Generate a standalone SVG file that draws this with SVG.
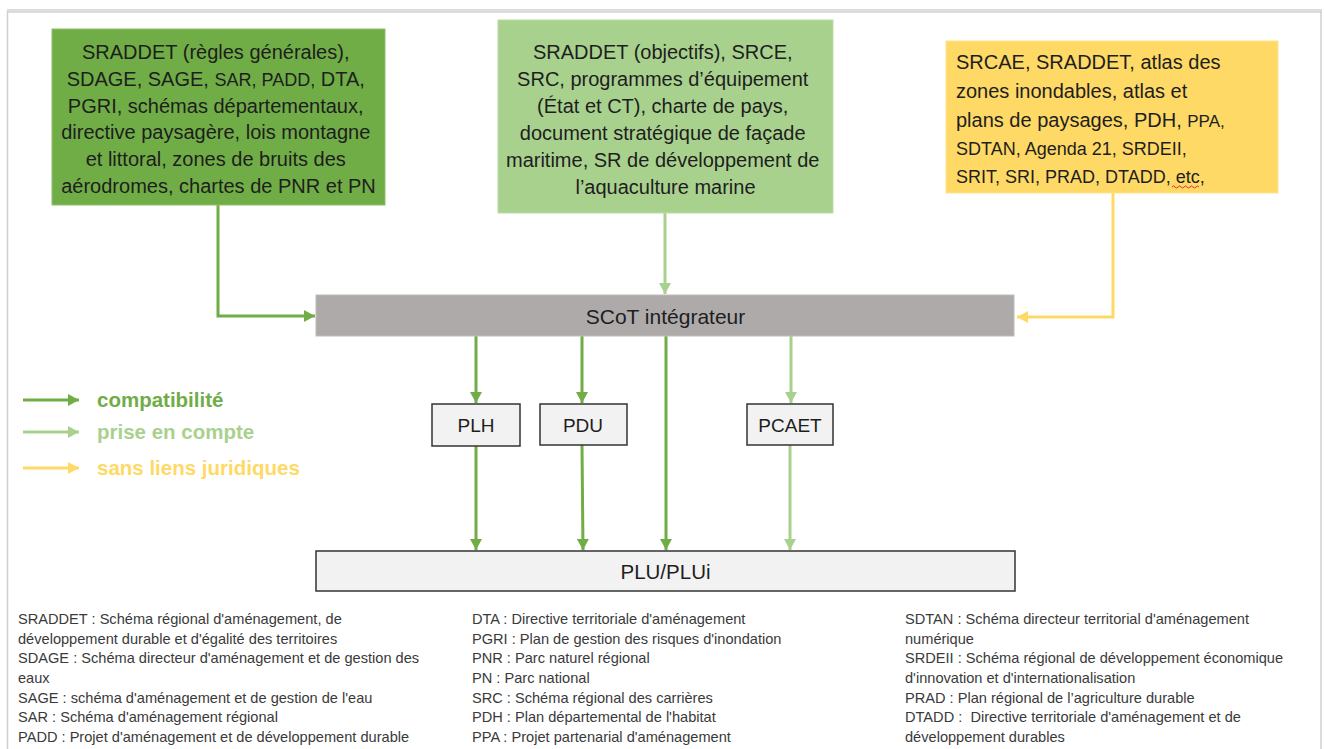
<svg xmlns="http://www.w3.org/2000/svg" width="1325" height="749" viewBox="0 0 1325 749">
<style>
  .box-text { font-family: "Liberation Sans", Arial, sans-serif; font-size: 20px; fill: #1e1e1e; }
  .label { font-family: "Liberation Sans", Arial, sans-serif; fill: #1e1e1e; text-anchor: middle; }
  .legend { font-family: "Liberation Sans", Arial, sans-serif; font-size: 20.5px; font-weight: bold; }
  .note { font-family: "Liberation Sans", Arial, sans-serif; font-size: 14.6px; fill: #3a3a3a; }
  .c-dark { stroke: #70AD47; stroke-width: 3; fill: none; }
  .c-light { stroke: #A9D18E; stroke-width: 3; fill: none; }
  .c-yellow { stroke: #FFD966; stroke-width: 3; fill: none; }
  .plain { fill: #F2F2F2; stroke: #333333; stroke-width: 1.5; }
</style>
<defs>
  <marker id="ah-dark" markerUnits="userSpaceOnUse" markerWidth="12" markerHeight="12" refX="11" refY="6" orient="auto">
    <path d="M0,0 L11,6 L0,12 z" fill="#70AD47"/>
  </marker>
  <marker id="ah-light" markerUnits="userSpaceOnUse" markerWidth="12" markerHeight="12" refX="11" refY="6" orient="auto">
    <path d="M0,0 L11,6 L0,12 z" fill="#A9D18E"/>
  </marker>
  <marker id="ah-yellow" markerUnits="userSpaceOnUse" markerWidth="12" markerHeight="12" refX="11" refY="6" orient="auto">
    <path d="M0,0 L11,6 L0,12 z" fill="#FFD966"/>
  </marker>
</defs>

<rect x="0" y="0" width="1325" height="749" fill="#ffffff"/>
<g id="frame">
  <rect x="7" y="9" width="1315" height="4" fill="#dcdcdc"/>
  <line x1="7.5" y1="11" x2="7.5" y2="749" stroke="#d0d0d0" stroke-width="1.5"/>
  <line x1="1321" y1="11" x2="1321" y2="749" stroke="#d0d0d0" stroke-width="1.5"/>
</g>

<g id="connectors">
  <path class="c-dark" d="M218,205 V316 H315" marker-end="url(#ah-dark)"/>
  <path class="c-light" d="M665,213 V294" marker-end="url(#ah-light)"/>
  <path class="c-yellow" d="M1113,193 V317 H1017" marker-end="url(#ah-yellow)"/>
  <path class="c-dark" d="M476,336 V403" marker-end="url(#ah-dark)"/>
  <path class="c-dark" d="M582,336 V403" marker-end="url(#ah-dark)"/>
  <path class="c-light" d="M791,336 V403" marker-end="url(#ah-light)"/>
  <path class="c-dark" d="M666,336 V550" marker-end="url(#ah-dark)"/>
  <path class="c-dark" d="M476,446 V550" marker-end="url(#ah-dark)"/>
  <path class="c-dark" d="M582,445 L583,550" marker-end="url(#ah-dark)"/>
  <path class="c-light" d="M790,445 V550" marker-end="url(#ah-light)"/>
</g>

<g id="node-compat">
  <rect x="52" y="29" width="333" height="176" fill="#70AD47" stroke="#8cc06a" stroke-width="1"/>
  <text class="box-text" text-anchor="middle">
    <tspan x="218.5" y="59">SRADDET (règles générales),</tspan>
    <tspan x="218.5" y="85.8">SDAGE, SAGE, <tspan font-size="18">SAR, PADD,</tspan> DTA,</tspan>
    <tspan x="218.5" y="112.6">PGRI, schémas départementaux,</tspan>
    <tspan x="218.5" y="139.4">directive paysagère, lois montagne</tspan>
    <tspan x="218.5" y="166.2">et littoral, zones de bruits des</tspan>
    <tspan x="218.5" y="193">aérodromes, chartes de PNR et PN</tspan>
  </text>
</g>

<g id="node-prise">
  <rect x="498" y="20" width="335" height="193" fill="#A9D18E" stroke="#bcdca6" stroke-width="1"/>
  <text class="box-text" text-anchor="middle">
    <tspan x="665.5" y="59">SRADDET (objectifs), SRCE,</tspan>
    <tspan x="665.5" y="86">SRC, programmes d’équipement</tspan>
    <tspan x="665.5" y="113">(État et CT), charte de pays,</tspan>
    <tspan x="665.5" y="140">document stratégique de façade</tspan>
    <tspan x="665.5" y="167">maritime, SR de développement de</tspan>
    <tspan x="665.5" y="194">l’aquaculture marine</tspan>
  </text>
</g>

<g id="node-sans">
  <rect x="946" y="41" width="332" height="152" fill="#FFD966" stroke="#ffe38f" stroke-width="1"/>
  <text class="box-text">
    <tspan x="956" y="69">SRCAE, SRADDET, atlas des</tspan>
    <tspan x="956" y="98">zones inondables, atlas et</tspan>
    <tspan x="956" y="127">plans de paysages, PDH, <tspan font-size="17">PPA,</tspan></tspan>
    <tspan x="956" y="155" font-size="18">SDTAN, Agenda 21, SRDEII,</tspan>
    <tspan x="956" y="183" font-size="18">SRIT, SRI, PRAD, DTADD, etc,</tspan>
  </text>
  <path d="M1172,187 q1.5,-2 3,0 t3,0 t3,0 t3,0 t3,0 t3,0 t3,0 t3,0 t3,0" fill="none" stroke="#e03030" stroke-width="1"/>
</g>

<g id="node-scot">
  <rect x="316" y="295" width="698" height="41" fill="#AEAAAA" stroke="#bdbaba" stroke-width="1"/>
  <text class="label" x="665.5" y="324" font-size="21">SCoT intégrateur</text>
</g>

<g id="node-plh">
  <rect class="plain" x="432" y="404" width="88" height="42"/>
  <text class="label" x="476" y="432" font-size="19">PLH</text>
</g>
<g id="node-pdu">
  <rect class="plain" x="540" y="404" width="87" height="41"/>
  <text class="label" x="583" y="432" font-size="19">PDU</text>
</g>
<g id="node-pcaet">
  <rect class="plain" x="747" y="404" width="86" height="41"/>
  <text class="label" x="790" y="432" font-size="19">PCAET</text>
</g>

<g id="node-plu">
  <rect class="plain" x="316" y="551" width="699" height="40"/>
  <text class="label" x="665.5" y="579" font-size="20.5">PLU/PLUi</text>
</g>

<g id="legend">
  <line class="c-dark" x1="23" y1="400" x2="79" y2="400" marker-end="url(#ah-dark)"/>
  <line class="c-light" x1="23" y1="432" x2="79" y2="432" marker-end="url(#ah-light)"/>
  <line class="c-yellow" x1="23" y1="468" x2="79" y2="468" marker-end="url(#ah-yellow)"/>
  <text class="legend" x="97" y="407" fill="#70AD47">compatibilité</text>
  <text class="legend" x="97" y="439" fill="#A9D18E">prise en compte</text>
  <text class="legend" x="97" y="475" fill="#FFD966">sans liens juridiques</text>
</g>

<g id="notes">
  <text class="note">
    <tspan x="18" y="624">SRADDET : Schéma régional d'aménagement, de</tspan>
    <tspan x="18" y="643.7">développement durable et d'égalité des territoires</tspan>
    <tspan x="18" y="663.3">SDAGE : Schéma directeur d'aménagement et de gestion des</tspan>
    <tspan x="18" y="683">eaux</tspan>
    <tspan x="18" y="702.7">SAGE : schéma d'aménagement et de gestion de l'eau</tspan>
    <tspan x="18" y="722.3">SAR : Schéma d'aménagement régional</tspan>
    <tspan x="18" y="742">PADD : Projet d'aménagement et de développement durable</tspan>
  </text>
  <text class="note">
    <tspan x="472" y="624">DTA : Directive territoriale d'aménagement</tspan>
    <tspan x="472" y="643.7">PGRI : Plan de gestion des risques d'inondation</tspan>
    <tspan x="472" y="663.3">PNR : Parc naturel régional</tspan>
    <tspan x="472" y="683">PN : Parc national</tspan>
    <tspan x="472" y="702.7">SRC : Schéma régional des carrières</tspan>
    <tspan x="472" y="722.3">PDH : Plan départemental de l'habitat</tspan>
    <tspan x="472" y="742">PPA : Projet partenarial d'aménagement</tspan>
  </text>
  <text class="note">
    <tspan x="905" y="624">SDTAN : Schéma directeur territorial d'aménagement</tspan>
    <tspan x="905" y="643.7">numérique</tspan>
    <tspan x="905" y="663.3">SRDEII : Schéma régional de développement économique</tspan>
    <tspan x="905" y="683">d'innovation et d'internationalisation</tspan>
    <tspan x="905" y="702.7">PRAD : Plan régional de l’agriculture durable</tspan>
    <tspan x="905" y="722.3">DTADD :&#160; Directive territoriale d'aménagement et de</tspan>
    <tspan x="905" y="742">développement durables</tspan>
  </text>
</g>
</svg>
